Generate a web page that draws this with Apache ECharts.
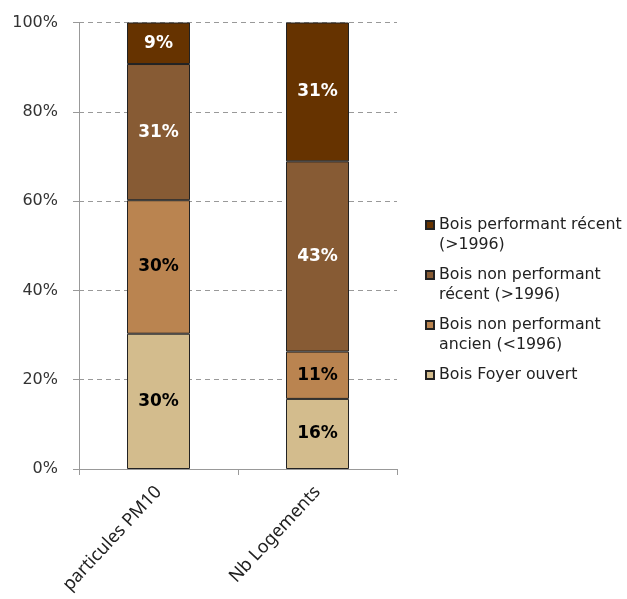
<!DOCTYPE html>
<html><head><meta charset="utf-8">
<script src="https://cdn.jsdelivr.net/npm/echarts@6/dist/echarts.min.js"></script>
<style>html,body{margin:0;padding:0;background:#fff}#c{width:627px;height:599px}</style>
</head><body><div id="c"></div>
<script>
const categories = ['particules PM10', 'Nb Logements'];
const seriesNames = ['Bois Foyer ouvert', 'Bois non performant ancien (<1996)', 'Bois non performant récent (>1996)', 'Bois performant récent (>1996)'];
const foyerOuvert = [30.3, 15.7];
const nonPerfAncien = [29.9, 10.6];
const nonPerfRecent = [30.5, 42.6];
const perfRecent = [9.3, 31.1];
const legendLabels = {
  'Bois performant récent (>1996)': '\nBois performant récent\n(>1996)',
  'Bois non performant récent (>1996)': '\nBois non performant\nrécent (>1996)',
  'Bois non performant ancien (<1996)': '\nBois non performant\nancien (<1996)',
  'Bois Foyer ouvert': '\nBois Foyer ouvert\n'
};
const colors = ['#D3BC8D', '#BA8450', '#875B34', '#663300'];
const labelColors = ['#000', '#000', '#fff', '#fff'];
const values = [foyerOuvert, nonPerfAncien, nonPerfRecent, perfRecent];
const FONT = 'DejaVu Sans';

const chart = echarts.init(document.getElementById('c'), null, {renderer: 'canvas'});
chart.setOption({
  backgroundColor: '#fff',
  animation: false,
  grid: {left: 79, right: 230, top: 22.5, bottom: 130, containLabel: false},
  legend: {
    orient: 'vertical',
    left: 425,
    top: 195,
    padding: 0,
    itemGap: -10,
    itemWidth: 8,
    itemHeight: 8,
    icon: 'rect',
    data: seriesNames.slice().reverse(),
    formatter: n => legendLabels[n],
    textStyle: {fontFamily: FONT, fontSize: 15.8, color: '#222', lineHeight: 20}
  },
  xAxis: {
    type: 'category',
    data: categories,
    axisLine: {lineStyle: {color: '#999'}},
    axisTick: {show: true, length: 6, lineStyle: {color: '#999'}},
    axisLabel: {rotate: 47, margin: 20, fontFamily: 'Noto Sans', fontSize: 18, color: '#222'}
  },
  yAxis: {
    type: 'value',
    min: 0, max: 100, interval: 20,
    axisLine: {show: true, lineStyle: {color: '#999'}},
    axisTick: {show: true, length: 6, lineStyle: {color: '#999'}},
    axisLabel: {formatter: '{value}%', margin: 21, fontFamily: FONT, fontSize: 16, color: '#333'},
    splitLine: {show: true, lineStyle: {color: '#999', type: [5, 4]}}
  },
  series: seriesNames.map((name, i) => ({
    name,
    type: 'bar',
    stack: 'total',
    barWidth: 63,
    data: values[i],
    itemStyle: {color: colors[i], borderColor: '#222', borderWidth: 1},
    label: {
      show: true,
      position: 'inside',
      formatter: p => Math.round(p.value) + '%',
      fontFamily: FONT, fontSize: 17, fontWeight: 'bold', color: labelColors[i]
    }
  }))
});
</script>
</body></html>
